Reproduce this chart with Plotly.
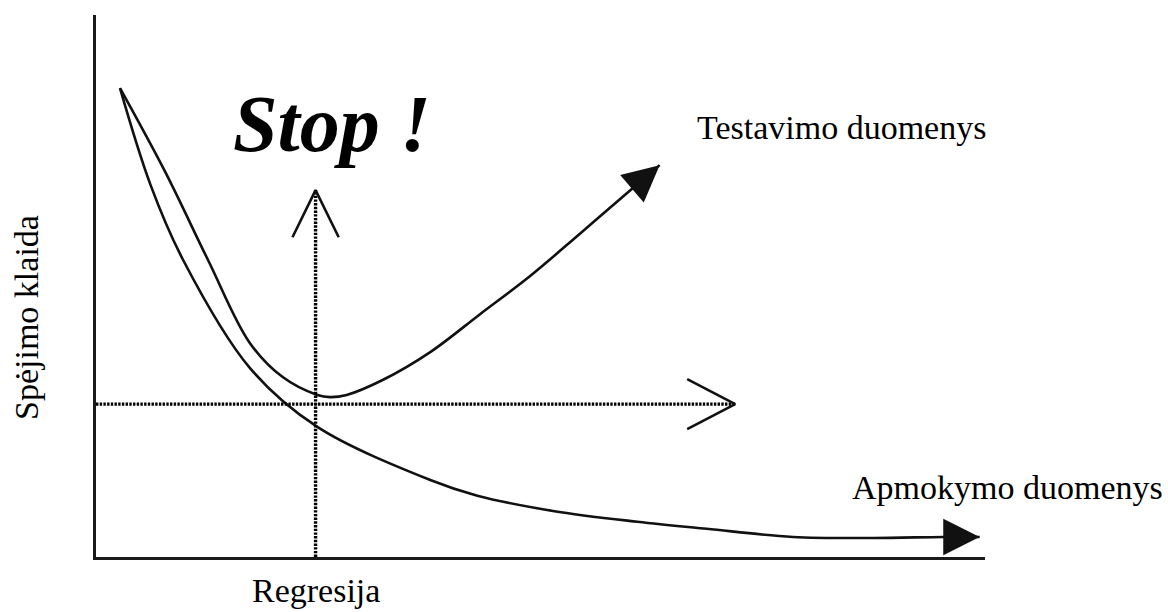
import plotly.graph_objects as go

# Model complexity (x) vs. prediction error (y), schematic units 0..10
train_x = [0.27, 0.61, 0.98, 1.73, 2.49, 3.76, 4.29, 5.14, 6.09, 6.87, 7.84, 8.74, 9.53, 9.94]
train_y = [8.65, 6.88, 5.48, 3.49, 2.40, 1.42, 1.13, 0.85, 0.65, 0.52, 0.37, 0.35, 0.37, 0.37]

test_x = [0.27, 0.78, 1.26, 1.73, 2.10, 2.49, 2.63, 2.82, 3.23, 3.76, 4.32, 4.88, 5.44, 6.04, 6.34]
test_y = [8.65, 7.10, 5.48, 3.95, 3.32, 2.99, 2.95, 2.99, 3.27, 3.78, 4.48, 5.18, 5.96, 6.81, 7.23]

# Early-stopping point and the error level there
stop_x = 2.47
stop_y = 2.82
vline_top = 6.77
hline_end = 7.19

# Open chevron half-sizes (data units)
chev_v = (0.26, 0.87)
chev_h = (0.54, 0.46)

labels = {
    "stop": "Stop !",
    "test": "Testavimo duomenys",
    "train": "Apmokymo duomenys",
    "yaxis": "Spėjimo klaida",
    "xaxis": "Regresija",
}

INK = "#111111"
SERIF = "Liberation Serif"

fig = go.Figure()
ann = []

def curve(xs, ys):
    fig.add_trace(go.Scatter(
        x=xs, y=ys, mode="lines",
        line=dict(color=INK, width=2.6, shape="spline", smoothing=1, backoff=14),
        hoverinfo="skip", showlegend=False,
    ))
    # filled arrowhead at the end of the curve
    ann.append(dict(x=xs[-1], y=ys[-1], ax=xs[-2], ay=ys[-2],
                    xref="x", yref="y", axref="x", ayref="y", text="",
                    showarrow=True, arrowhead=2, arrowsize=2.8, arrowwidth=2.6,
                    arrowcolor=INK))

curve(train_x, train_y)
curve(test_x, test_y)

dot = dict(color="#000000", width=3.4, dash="2.4px,1.3px")

# Vertical dotted guide at the stopping point
fig.add_trace(go.Scatter(x=[stop_x, stop_x], y=[0, vline_top], mode="lines",
                         line=dot, hoverinfo="skip", showlegend=False))
fig.add_trace(go.Scatter(
    x=[stop_x - chev_v[0], stop_x, stop_x + chev_v[0]],
    y=[vline_top - chev_v[1], vline_top, vline_top - chev_v[1]],
    mode="lines", line=dict(color=INK, width=2.6), hoverinfo="skip", showlegend=False))

# Horizontal dotted guide at the minimal test error
fig.add_trace(go.Scatter(x=[0, hline_end], y=[stop_y, stop_y], mode="lines",
                         line=dot, hoverinfo="skip", showlegend=False))
fig.add_trace(go.Scatter(
    x=[hline_end - chev_h[0], hline_end, hline_end - chev_h[0]],
    y=[stop_y + chev_h[1], stop_y, stop_y - chev_h[1]],
    mode="lines", line=dict(color=INK, width=2.6), hoverinfo="skip", showlegend=False))

txt = dict(showarrow=False, xanchor="center", yanchor="middle")
ann.append(dict(x=2.66, y=7.98, xref="x", yref="y",
                text="<b><i>%s</i></b>" % labels["stop"], font=dict(size=80), **txt))
ann.append(dict(x=8.39, y=7.93, xref="x", yref="y", text=labels["test"],
                font=dict(size=34), **txt))
ann.append(dict(x=1.0253, y=0.129, xref="paper", yref="paper", text=labels["train"],
                font=dict(size=34), **txt))
ann.append(dict(x=-0.0776, y=0.441, xref="paper", yref="paper", text=labels["yaxis"],
                textangle=-90, font=dict(size=34), **txt))
ann.append(dict(x=stop_x, y=-0.062, xref="x", yref="paper", text=labels["xaxis"],
                font=dict(size=34), **txt))

axis = dict(range=[0, 10], showline=True, linewidth=3, linecolor="#1a1a1a",
            showgrid=False, zeroline=False, showticklabels=False, ticks="", fixedrange=True)

fig.update_layout(
    width=1168, height=612,
    margin=dict(l=96, r=183, t=15, b=55),
    paper_bgcolor="white", plot_bgcolor="white",
    font=dict(family=SERIF, color="#000000"),
    xaxis=axis, yaxis=axis,
    annotations=ann,
    showlegend=False,
)

fig.write_html("out.html", config={"displayModeBar": False})
